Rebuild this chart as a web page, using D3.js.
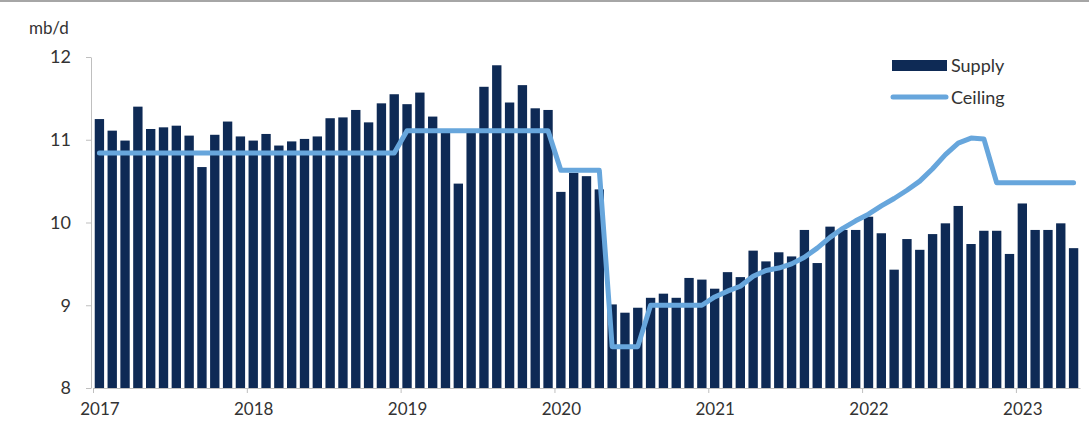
<!DOCTYPE html>
<meta charset="utf-8">
<style>
body { margin: 0; background: #fff; }
text { font-family: Lato, "Open Sans", sans-serif; fill: #333; }
.axis path, .axis line { stroke: #bfbfbf; }
</style>
<body>
<script src="https://d3js.org/d3.v7.min.js"></script>
<script>

// chart data (mb/d, monthly from Jan 2017)
var years = [2017, 2018, 2019, 2020, 2021, 2022, 2023];
var yTicks = [8, 9, 10, 11, 12];

var supply = [
  11.25, 11.11, 10.99, 11.40, 11.13, 11.15, 11.17, 11.05, 10.67, 11.06, 11.22, 11.04,
  10.99, 11.07, 10.93, 10.98, 11.01, 11.04, 11.26, 11.27, 11.36, 11.21, 11.44, 11.55,
  11.43, 11.57, 11.28, 11.10, 10.47, 11.10, 11.64, 11.90, 11.45, 11.66, 11.38, 11.36,
  10.37, 10.60, 10.56, 10.40, 9.01, 8.91, 8.97, 9.09, 9.14, 9.09, 9.33, 9.31,
  9.20, 9.40, 9.34, 9.66, 9.53, 9.64, 9.59, 9.91, 9.51, 9.95, 9.91, 9.91,
  10.07, 9.87, 9.43, 9.80, 9.67, 9.86, 9.99, 10.20, 9.74, 9.90, 9.90, 9.62,
  10.23, 9.91, 9.91, 9.99, 9.69
];

var ceiling = [
  10.84, 10.84, 10.84, 10.84, 10.84, 10.84, 10.84, 10.84, 10.84, 10.84, 10.84, 10.84,
  10.84, 10.84, 10.84, 10.84, 10.84, 10.84, 10.84, 10.84, 10.84, 10.84, 10.84, 10.84,
  11.11, 11.11, 11.11, 11.11, 11.11, 11.11, 11.11, 11.11, 11.11, 11.11, 11.11, 11.11,
  10.63, 10.63, 10.63, 10.63, 8.50, 8.50, 8.50, 9.00, 9.00, 9.00, 9.00, 9.00,
  9.10, 9.17, 9.23, 9.35, 9.42, 9.45, 9.50, 9.58, 9.69, 9.82, 9.93, 10.02,
  10.10, 10.20, 10.29, 10.39, 10.50, 10.65, 10.82, 10.96, 11.02, 11.01, 10.48, 10.48,
  10.48, 10.48, 10.48, 10.48, 10.48
];

var months = supply.map(function(d, i) { return i; });

var W = 1089, H = 423;
var plotLeft = 93, plotRight = 1080, plotTop = 57, plotBottom = 388;

var svg = d3.select("body").append("svg")
    .attr("width", W)
    .attr("height", H);

// thin grey rule at the top of the picture
svg.append("line")
    .attr("x1", 0).attr("x2", W)
    .attr("y1", 1).attr("y2", 1)
    .attr("stroke", "#a6a6a6")
    .attr("stroke-width", 2);

var x = d3.scaleBand()
    .domain(months)
    .range([plotLeft, plotRight])
    .paddingInner(0.27)
    .paddingOuter(0.135);

var xYear = d3.scaleLinear()
    .domain([0, months.length])
    .range([plotLeft, plotRight]);

var y = d3.scaleLinear()
    .domain([8, 12])
    .range([plotBottom, plotTop]);

// bars
svg.append("g").selectAll("rect")
    .data(supply)
  .enter().append("rect")
    .attr("x", function(d, i) { return x(i); })
    .attr("y", function(d) { return y(d); })
    .attr("width", x.bandwidth())
    .attr("height", function(d) { return y(8) - y(d); })
    .attr("fill", "#0e2a55");

// x axis: ticks at year start, labels under January bar
var xAxis = svg.append("g")
    .attr("class", "axis")
    .attr("transform", "translate(0," + plotBottom + ")")
    .call(d3.axisBottom(xYear)
      .tickValues(years.map(function(yr) { return (yr - years[0]) * 12; }))
      .tickFormat(function(d) { return years[0] + d / 12; })
      .tickSizeInner(5)
      .tickSizeOuter(0)
      .tickPadding(10));
xAxis.select(".domain").attr("stroke", "#bfbfbf");
xAxis.selectAll("text")
    .attr("x", x.step() / 2)
    .style("font-size", "17px")
    .style("fill", "#333");

// y axis
var yAxis = svg.append("g")
    .attr("class", "axis")
    .attr("transform", "translate(91,0)")
    .call(d3.axisLeft(y)
      .tickValues(yTicks)
      .tickFormat(d3.format("d"))
      .tickSizeInner(5)
      .tickSizeOuter(0)
      .tickPadding(15));
yAxis.selectAll("text")
    .style("font-size", "18px")
    .style("fill", "#333");

// ceiling line
var line = d3.line()
    .x(function(d, i) { return x(i) + x.bandwidth() / 2; })
    .y(function(d) { return y(d); });

svg.append("path")
    .datum(ceiling)
    .attr("d", line)
    .attr("fill", "none")
    .attr("stroke", "#67a6dc")
    .attr("stroke-width", 5)
    .attr("stroke-linejoin", "round")
    .attr("stroke-linecap", "round");

// unit label
svg.append("text")
    .attr("x", 29)
    .attr("y", 34)
    .style("font-size", "17px")
    .text("mb/d");

// legend
var lg = svg.append("g");
lg.append("rect")
    .attr("x", 892).attr("y", 60)
    .attr("width", 55).attr("height", 11)
    .attr("fill", "#0e2a55");
lg.append("text")
    .attr("x", 951).attr("y", 72)
    .style("font-size", "18px")
    .text("Supply");
lg.append("line")
    .attr("x1", 893).attr("x2", 946)
    .attr("y1", 97).attr("y2", 97)
    .attr("stroke", "#67a6dc")
    .attr("stroke-width", 5)
    .attr("stroke-linecap", "round");
lg.append("text")
    .attr("x", 951).attr("y", 104)
    .style("font-size", "18px")
    .text("Ceiling");

</script>
</body>
